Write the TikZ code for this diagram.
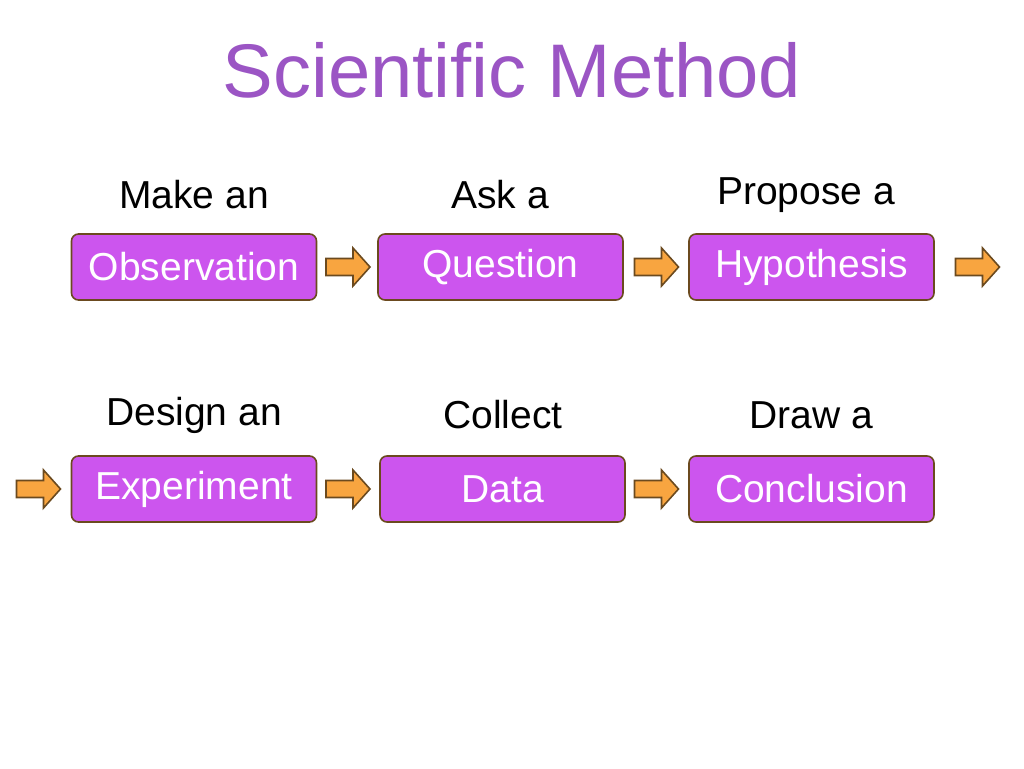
\documentclass[tikz,border=0pt]{standalone}
\usepackage{fontspec}
\setmainfont{Liberation Sans}
\definecolor{boxfill}{HTML}{CC55EE}
\definecolor{boxline}{HTML}{6B4A1F}
\definecolor{arrfill}{HTML}{F8A540}
\definecolor{titlec}{HTML}{9B55C4}
\begin{document}
\begin{tikzpicture}[x=1pt,y=-1pt,
  stepbox/.style={draw=boxline,line width=1.6pt,fill=boxfill,rounded corners=7pt,minimum width=245pt,minimum height=66pt,inner sep=0pt,text=white,font=\fontsize{39}{39}\selectfont},
  lbl/.style={font=\fontsize{39}{39}\selectfont,text=black},
  pics/barrow/.style={code={
    \draw[draw=boxline,line width=1.6pt,fill=arrfill,line join=miter]
      (-22,-8.5) -- (5,-8.5) -- (5,-19) -- (22,0) -- (5,19) -- (5,8.5) -- (-22,8.5) -- cycle;}}]
\useasboundingbox (0,0) rectangle (1024,768);
\node[font=\fontsize{76}{76}\selectfont,text=titlec] (title) at (512,70) {Scientific Method};
\node[lbl] (l1) at (194,195) {Make an};
\node[lbl] (l2) at (500,195) {Ask a};
\node[lbl] (l3) at (806,195) {Propose a};
\node[lbl] (l4) at (194,415) {Design an};
\node[lbl] (l5) at (503,415) {Collect};
\node[lbl] (l6) at (811,415) {Draw a};
\node[stepbox] (obs) at (194,267) {Observation};
\node[stepbox] (que) at (500.5,267) {Question};
\node[stepbox] (hyp) at (811.5,267) {Hypothesis};
\node[stepbox] (exp) at (194,489) {Experiment};
\node[stepbox] (dat) at (502.5,489) {Data};
\node[stepbox] (con) at (811.5,489) {Conclusion};
\pic at (348,267) {barrow};
\pic at (656.5,267) {barrow};
\pic at (977.5,267) {barrow};
\pic at (38.5,489) {barrow};
\pic at (348,489) {barrow};
\pic at (656.5,489) {barrow};
\end{tikzpicture}
\end{document}
